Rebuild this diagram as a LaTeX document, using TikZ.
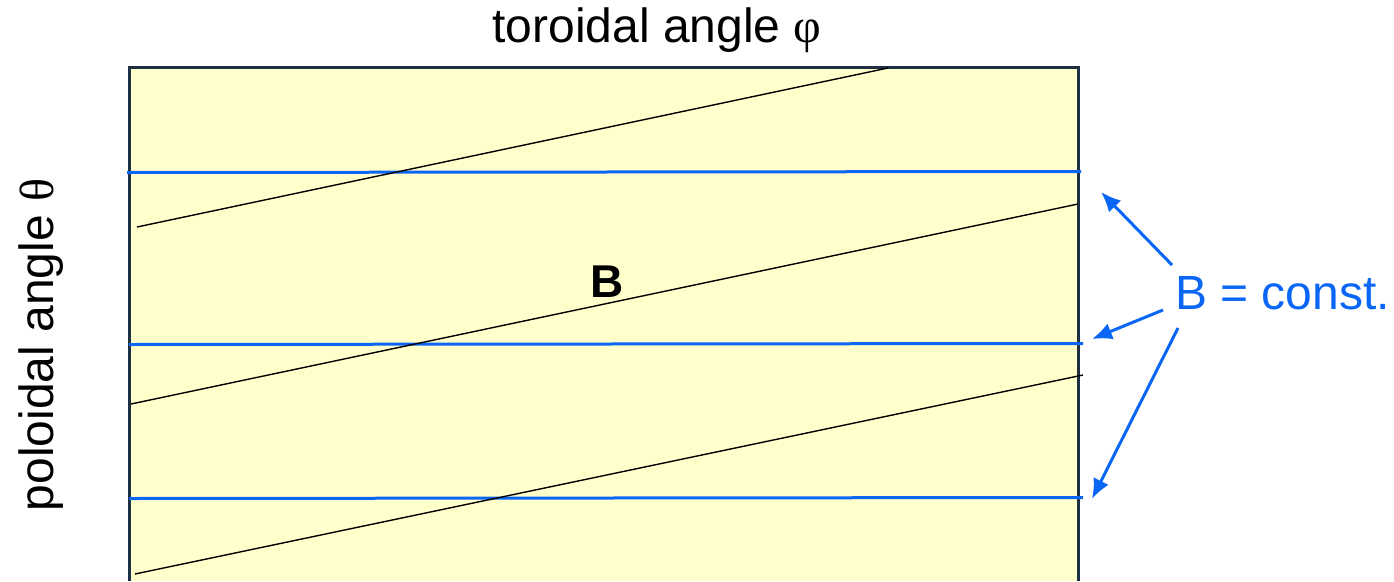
\documentclass[tikz,border=0pt]{standalone}
\usepackage{fontspec}
\setmainfont{Liberation Sans}
\newfontfamily\greekfont{Liberation Serif}
\usetikzlibrary{arrows.meta}
\definecolor{panelfill}{HTML}{FFFFCC}
\definecolor{paneledge}{HTML}{1F3044}
\definecolor{bblue}{HTML}{0A66F5}
\tikzset{
  panel/.style={fill=panelfill,draw=paneledge,line width=3pt},
  bline/.style={draw=bblue,line width=3pt},
  fline/.style={draw=black,line width=1.4pt},
  barrow/.style={draw=bblue,line width=3pt,-{Latex[length=20pt,width=17pt]}},
  lab/.style={inner sep=0pt,font=\fontsize{48}{57}\selectfont}
}
\begin{document}
\begin{tikzpicture}[x=1pt,y=-1pt]
\useasboundingbox (0,0) rectangle (1394,581);
\draw[panel] (129,581) -- (129,67) -- (1078,67) -- (1078,581);
% blue B = const lines
\draw[bline] (127,172.5) -- (1081,171.5);
\draw[bline] (129,344.5) -- (1083,343.5);
\draw[bline] (129,498.5) -- (1083,497.5);
% field lines
\draw[fline] (137,227) -- (888,68);
\draw[fline] (131,404) -- (1078,204);
\draw[fline] (135,574) -- (1083,375);
% labels
\node[lab,anchor=base] (title) at (657,42) {toroidal angle {\greekfont φ}};
\node[lab,anchor=base,rotate=90] (pol) at (53,345) {poloidal angle {\greekfont θ}};
\node[lab,anchor=base,font=\fontsize{46}{55}\selectfont\bfseries] (blab) at (607,297) {B};
\node[lab,anchor=base west,text=bblue] (const) at (1175,309) {B = const.};
% arrows
\coordinate (s1) at (1172,265);
\coordinate (t1) at (1101,192);
\coordinate (s2) at (1163,310);
\coordinate (t2) at (1092,339);
\coordinate (s3) at (1178,328);
\coordinate (t3) at (1092,499);
\draw[barrow] (s1) -- (t1);
\draw[barrow] (s2) -- (t2);
\draw[barrow] (s3) -- (t3);
\end{tikzpicture}
\end{document}
